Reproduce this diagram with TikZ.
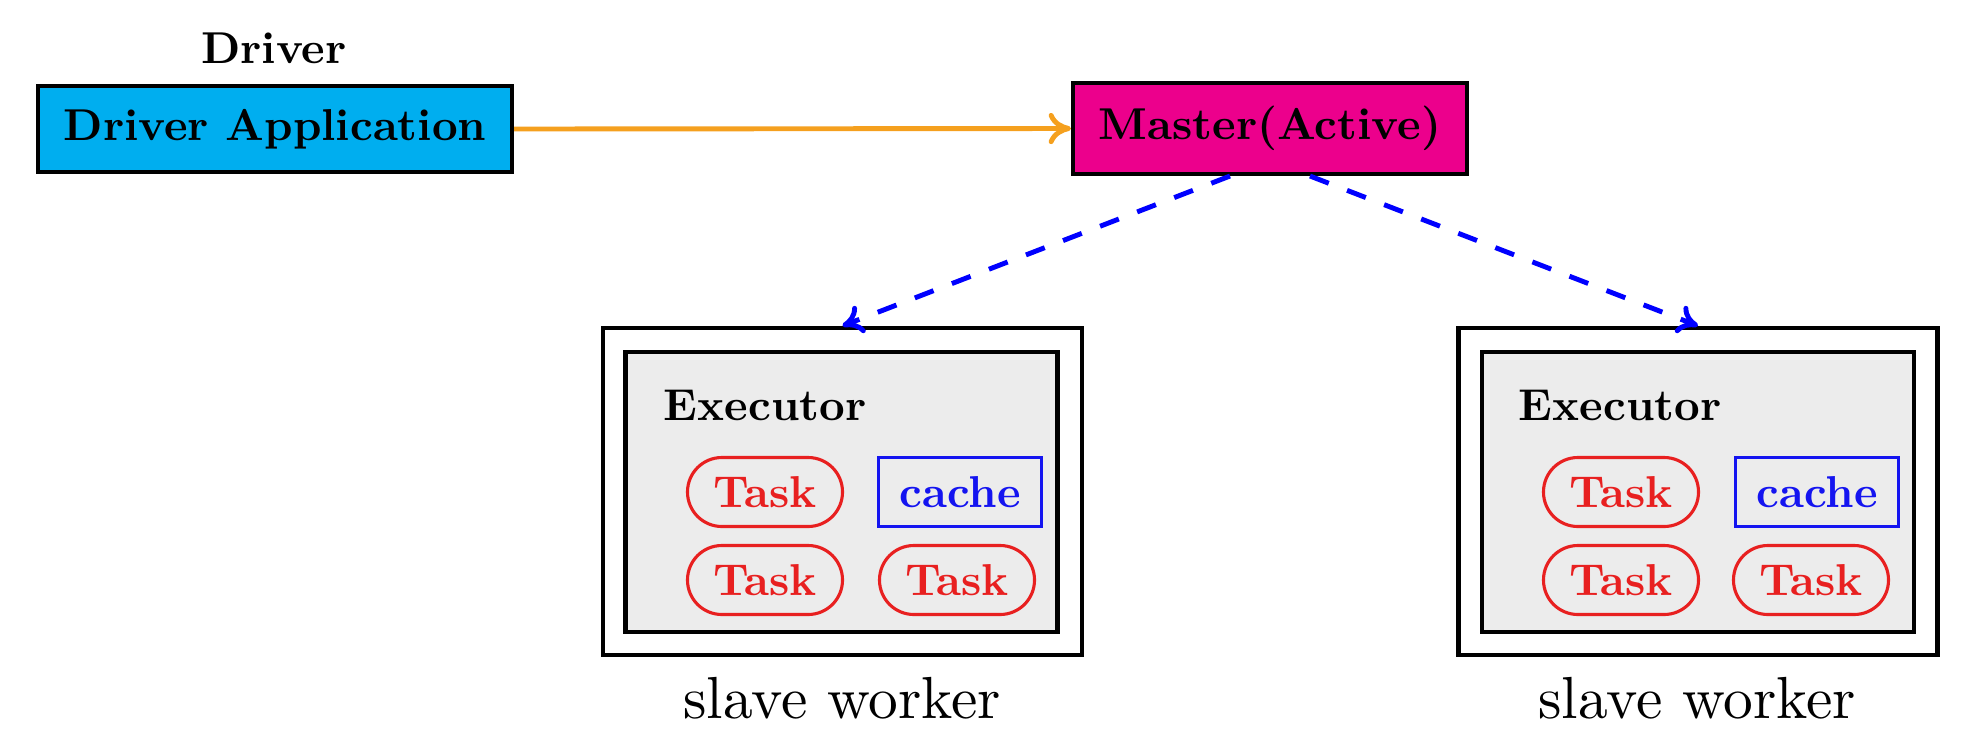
\documentclass[tikz,border=0pt]{standalone}
\usetikzlibrary{calc,arrows.meta}
\definecolor{drvcyan}{RGB}{0,174,239}
\definecolor{mstmag}{RGB}{236,0,140}
\definecolor{arrorange}{RGB}{245,160,30}
\definecolor{execgray}{RGB}{236,236,236}
\definecolor{taskred}{RGB}{232,32,32}
\definecolor{cacheblue}{RGB}{20,20,240}
\begin{document}
\begin{tikzpicture}[x=0.224pt,y=-0.224pt,
  topbox/.style={draw=black,line width=0.9pt,inner sep=0pt,font=\bfseries},
  outerbox/.style={draw=black,line width=0.95pt,inner sep=0pt,minimum width=479*0.224pt,minimum height=327*0.224pt},
  innerbox/.style={draw=black,line width=0.95pt,fill=execgray,inner sep=0pt,minimum width=432*0.224pt,minimum height=280*0.224pt},
  taskpill/.style={draw=taskred,text=taskred,line width=0.7pt,rounded corners=7.7pt,inner sep=0pt,font=\bfseries,minimum width=155*0.224pt,minimum height=69*0.224pt},
  cachebox/.style={draw=cacheblue,text=cacheblue,line width=0.7pt,inner sep=0pt,font=\bfseries,minimum width=163*0.224pt,minimum height=69*0.224pt},
  workerlabel/.style={inner sep=0pt,anchor=base},
  masterlink/.style={draw=blue,line width=1.1pt,dash pattern=on 4.5pt off 4.4pt,-{To[length=4.5pt,width=6.5pt]}}
]
\useasboundingbox (0,0) rectangle (1979,752);

% top row
\node[inner sep=0pt,anchor=base,font=\bfseries] (drvlabel) at (274,63) {Driver};
\node[topbox,fill=drvcyan,minimum width=474*0.224pt,minimum height=86*0.224pt] (da) at (275,129) {Driver Application};
\node[topbox,fill=mstmag,minimum width=394*0.224pt,minimum height=91*0.224pt] (m) at (1270,128.5) {Master(Active)};
\draw[arrorange,line width=1.1pt,-{To[length=5pt,width=7pt]}] (da.east) -- (m.west);

% left worker
\node[outerbox] (w1) at (842.5,491.5) {};
\node[innerbox] (w1i) at (841.5,492) {};
\node[inner sep=0pt,anchor=base west,font=\bfseries] (e1) at (663,420) {Executor};
\node[taskpill] (t11) at (765,492) {Task};
\node[cachebox] (c1) at (960,492) {cache};
\node[taskpill] (t12) at (765,580) {Task};
\node[taskpill] (t13) at (957,580) {Task};
\node[workerlabel] (l1) at (842,718) {\scalebox{1.33}{slave worker}};

% right worker
\node[outerbox] (w2) at (1698,491.5) {};
\node[innerbox] (w2i) at (1698,492) {};
\node[inner sep=0pt,anchor=base west,font=\bfseries] (e2) at (1518,420) {Executor};
\node[taskpill] (t21) at (1621,492) {Task};
\node[cachebox] (c2) at (1817,492) {cache};
\node[taskpill] (t22) at (1621,580) {Task};
\node[taskpill] (t23) at (1811,580) {Task};
\node[workerlabel] (l2) at (1697,718) {\scalebox{1.33}{slave worker}};

% master links
\coordinate (ms1) at ($(m.south)+(-40,0)$);
\coordinate (ms2) at ($(m.south)+(40,0)$);
\draw[masterlink] (ms1) -- (w1.north);
\draw[masterlink] (ms2) -- (w2.north);
\end{tikzpicture}
\end{document}
